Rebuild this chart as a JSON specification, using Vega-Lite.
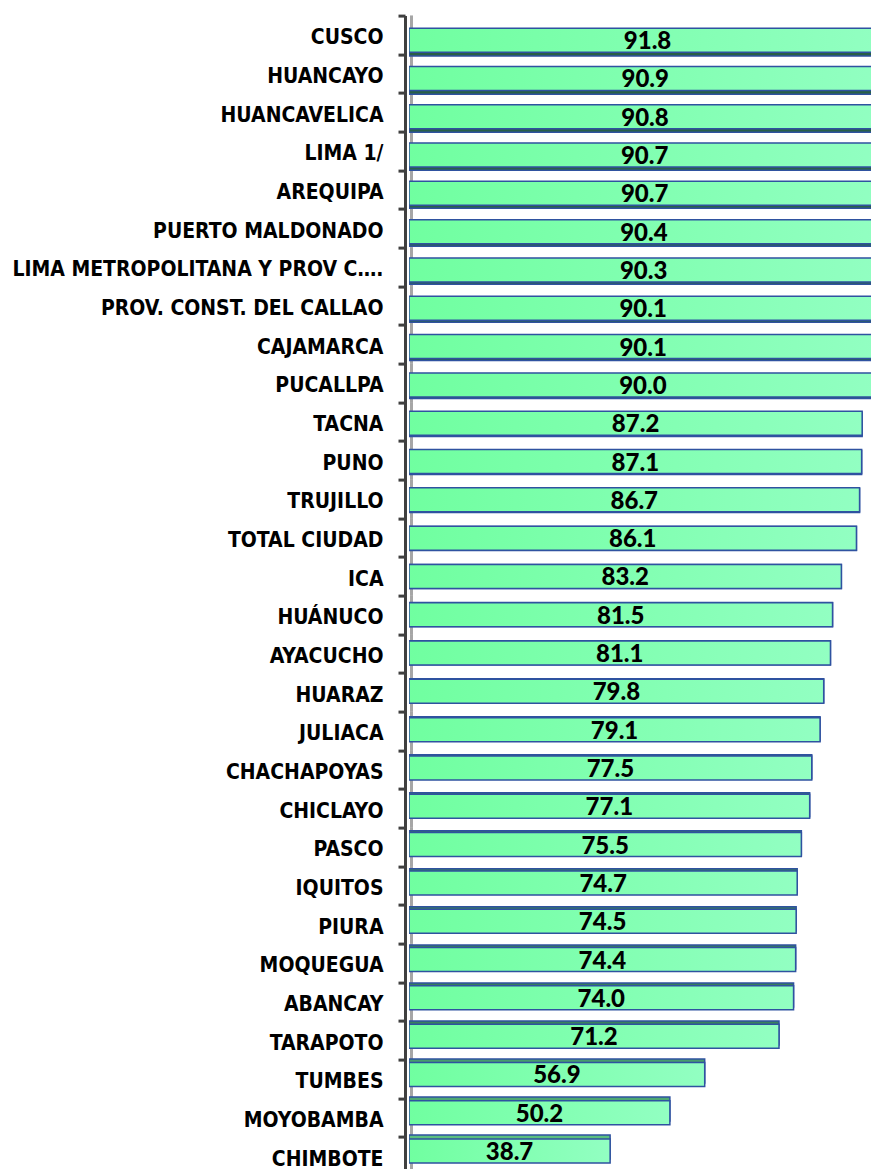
{
  "$schema": "https://vega.github.io/schema/vega-lite/v6.json",
  "width": 462,
  "height": 1160,
  "autosize": {"type": "none"},
  "padding": {"left": 409, "top": 15.6, "right": 0, "bottom": 0},
  "background": "white",
  "config": {"view": {"stroke": null}},
  "data": {
    "values": [
      {"city": "CUSCO", "value": 91.8},
      {"city": "HUANCAYO", "value": 90.9},
      {"city": "HUANCAVELICA", "value": 90.8},
      {"city": "LIMA 1/", "value": 90.7},
      {"city": "AREQUIPA", "value": 90.7},
      {"city": "PUERTO MALDONADO", "value": 90.4},
      {"city": "LIMA METROPOLITANA  Y PROV C….", "value": 90.3},
      {"city": "PROV. CONST. DEL CALLAO", "value": 90.1},
      {"city": "CAJAMARCA", "value": 90.1},
      {"city": "PUCALLPA", "value": 90.0},
      {"city": "TACNA", "value": 87.2},
      {"city": "PUNO", "value": 87.1},
      {"city": "TRUJILLO", "value": 86.7},
      {"city": "TOTAL CIUDAD", "value": 86.1},
      {"city": "ICA", "value": 83.2},
      {"city": "HUÁNUCO", "value": 81.5},
      {"city": "AYACUCHO", "value": 81.1},
      {"city": "HUARAZ", "value": 79.8},
      {"city": "JULIACA", "value": 79.1},
      {"city": "CHACHAPOYAS", "value": 77.5},
      {"city": "CHICLAYO", "value": 77.1},
      {"city": "PASCO", "value": 75.5},
      {"city": "IQUITOS", "value": 74.7},
      {"city": "PIURA", "value": 74.5},
      {"city": "MOQUEGUA", "value": 74.4},
      {"city": "ABANCAY", "value": 74.0},
      {"city": "TARAPOTO", "value": 71.2},
      {"city": "TUMBES", "value": 56.9},
      {"city": "MOYOBAMBA", "value": 50.2},
      {"city": "CHIMBOTE", "value": 38.7}
    ]
  },
  "layer": [
    {
      "mark": {"type": "tick", "orient": "vertical", "color": "#a6a6a6", "thickness": 3, "size": 39, "xOffset": 2.5, "opacity": 1},
      "encoding": {
        "x": {"datum": 0, "type": "quantitative", "scale": {"domain": [0, 88.9]}, "axis": null},
        "y": {
          "field": "city", "type": "nominal", "sort": null,
          "scale": {"paddingInner": 0, "paddingOuter": 0},
          "axis": {
            "title": null, "offset": 4, "domainColor": "#404040", "domainWidth": 3,
            "ticks": true, "tickColor": "#404040", "tickWidth": 3, "tickSize": 7, "tickBand": "extent",
            "labelFont": "DejaVu Sans Condensed, Liberation Sans", "labelFontWeight": "bold", "labelFontSize": 21,
            "labelColor": "#000000", "labelPadding": 15, "labelLimit": 500, "labelOffset": 3
          }
        }
      }
    },
    {
      "mark": {"type": "bar", "clip": true, "stroke": "#2F52A0", "strokeWidth": 1.5},
      "encoding": {
        "x": {"field": "value", "type": "quantitative", "scale": {"domain": [0, 88.9]}, "axis": null},
        "y": {"field": "city", "type": "nominal", "sort": null, "scale": {"paddingInner": 0.369, "paddingOuter": 0.4345}, "axis": null},
        "fill": {"field": "value", "type": "quantitative", "scale": {"domain": [38, 92], "range": ["#5cc080", "#285e46"]}, "legend": null}
      }
    },
    {
      "layer": [
        {
          "mark": {
            "type": "bar", "clip": true, "stroke": "#2F52A0", "strokeWidth": 1.5,
            "fill": {"gradient": "linear", "x1": 0, "y1": 0, "x2": 1, "y2": 0, "stops": [{"offset": 0, "color": "#70FFA0"}, {"offset": 1, "color": "#92FFC2"}]}
          },
          "encoding": {
            "x": {"field": "value", "type": "quantitative", "scale": {"domain": [0, 88.9]}, "axis": null},
            "y": {"field": "city", "type": "nominal", "sort": null, "scale": {"paddingInner": 0.3735, "paddingOuter": 0.327}, "axis": null}
          }
        },
        {
          "mark": {"type": "text", "font": "Lato", "fontWeight": 900, "fontSize": 24, "color": "#000000", "align": "center", "baseline": "middle", "dy": 2},
          "encoding": {
            "x": {"field": "value", "type": "quantitative", "scale": {"domain": [0, 177.8]}, "axis": null},
            "y": {"field": "city", "type": "nominal", "sort": null, "scale": {"paddingInner": 0.3735, "paddingOuter": 0.327}, "axis": null},
            "text": {"field": "value", "type": "quantitative", "format": ".1f"}
          }
        }
      ],
      "resolve": {"scale": {"x": "independent"}}
    }
  ],
  "resolve": {"scale": {"x": "independent", "y": "independent"}}
}
